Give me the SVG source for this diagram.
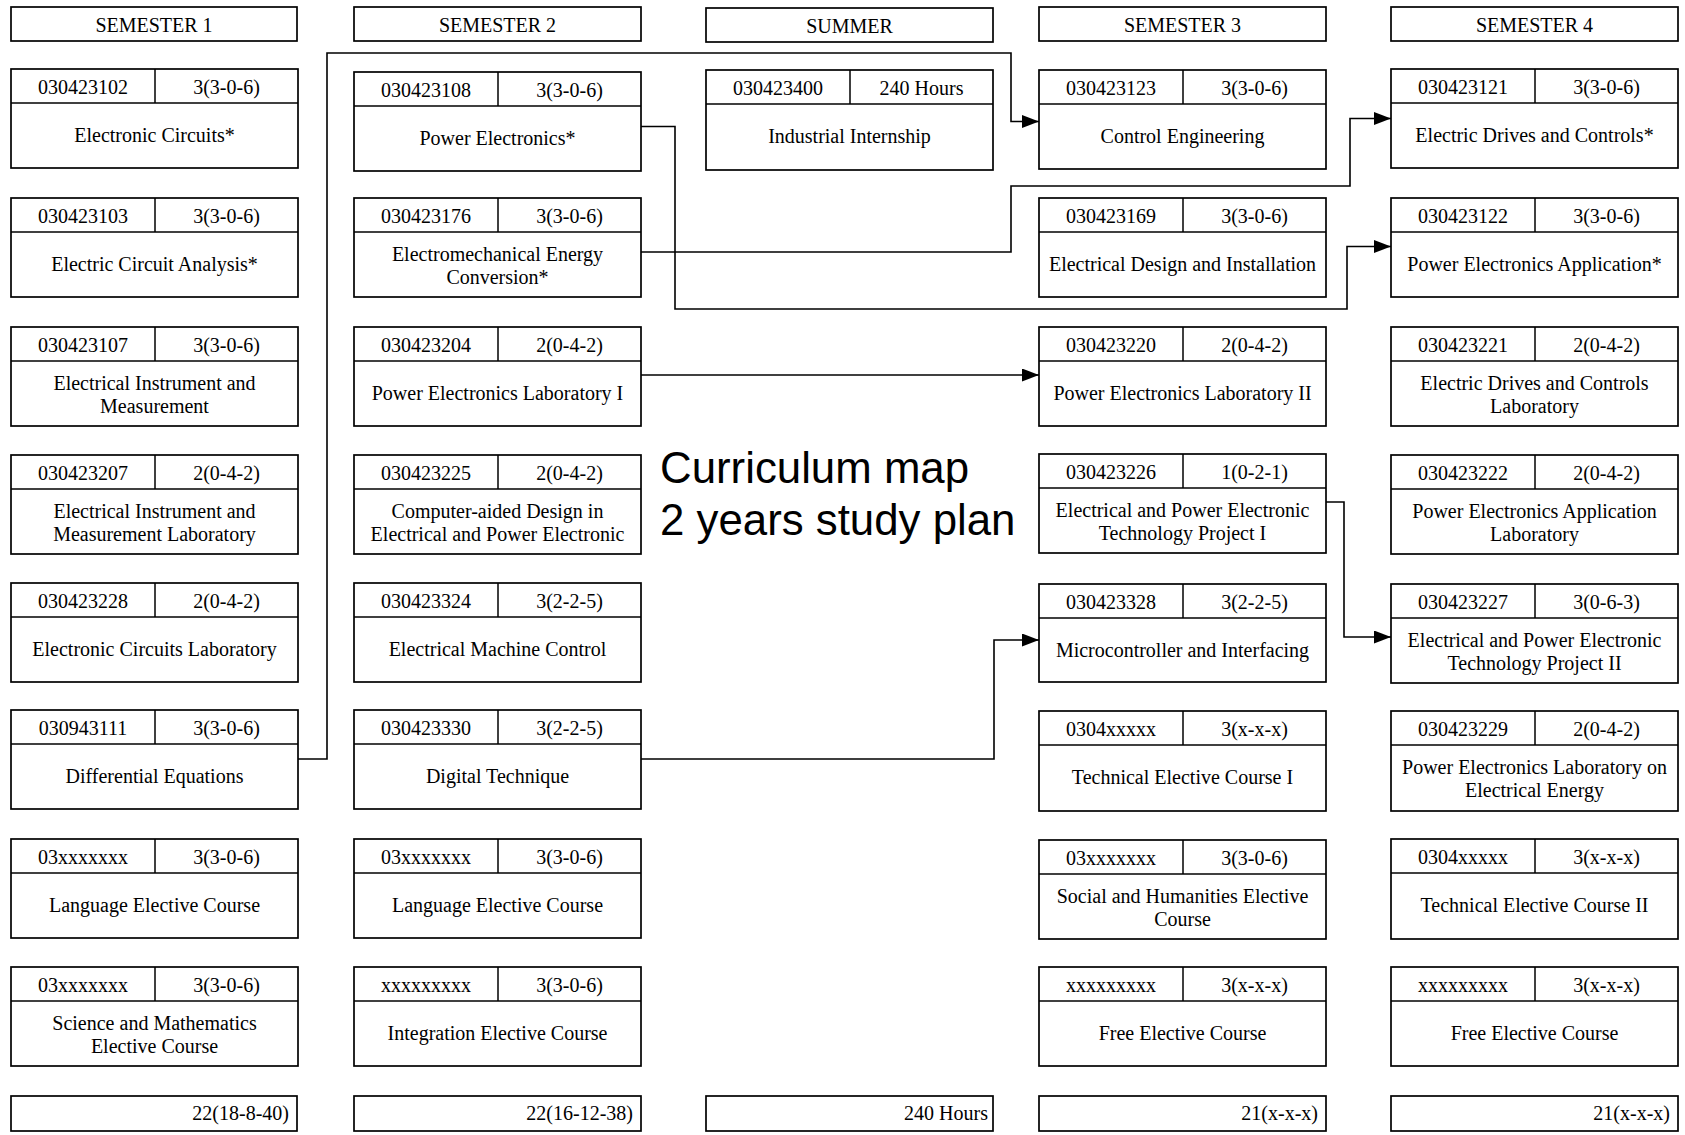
<svg xmlns="http://www.w3.org/2000/svg" width="1685" height="1135" viewBox="0 0 1685 1135">
<style>
rect{fill:#fff;stroke:#000;stroke-width:1.7}
.d{stroke:#000;stroke-width:1.5}
text{font-family:"Liberation Serif","Times New Roman",serif;font-size:20px;fill:#000;text-anchor:middle}
.t{text-anchor:end}
.title{font-family:"Liberation Sans",Arial,sans-serif;font-size:43.8px;text-anchor:start}
.c{fill:none;stroke:#000;stroke-width:1.6}
</style>
<defs>
<marker id="ah" markerUnits="userSpaceOnUse" markerWidth="18" markerHeight="14" refX="17" refY="6.5" orient="auto"><path d="M0,0 L17,6.5 L0,13 z" fill="#000"/></marker>
</defs>

<g id="headers">
<g id="h1" transform="translate(11,7)"><rect width="286" height="34"/><text x="143" y="25">SEMESTER 1</text></g>
<g id="h2" transform="translate(354,7)"><rect width="287" height="34"/><text x="143.5" y="25">SEMESTER 2</text></g>
<g id="h3" transform="translate(706,8)"><rect width="287" height="34"/><text x="143.5" y="25">SUMMER</text></g>
<g id="h4" transform="translate(1039,7)"><rect width="287" height="34"/><text x="143.5" y="25">SEMESTER 3</text></g>
<g id="h5" transform="translate(1391,7)"><rect width="287" height="34"/><text x="143.5" y="25">SEMESTER 4</text></g>
</g>

<!-- Semester 1 -->
<g id="s1r0" transform="translate(11,69)"><rect width="287" height="99"/><line class="d" x1="0" y1="34" x2="287" y2="34"/><line class="d" x1="144" y1="0" x2="144" y2="34"/><text x="72" y="25">030423102</text><text x="215.5" y="25">3(3-0-6)</text><text x="143.5" y="73">Electronic Circuits*</text></g>
<g id="s1r1" transform="translate(11,198)"><rect width="287" height="99"/><line class="d" x1="0" y1="34" x2="287" y2="34"/><line class="d" x1="144" y1="0" x2="144" y2="34"/><text x="72" y="25">030423103</text><text x="215.5" y="25">3(3-0-6)</text><text x="143.5" y="73">Electric Circuit Analysis*</text></g>
<g id="s1r2" transform="translate(11,327)"><rect width="287" height="99"/><line class="d" x1="0" y1="34" x2="287" y2="34"/><line class="d" x1="144" y1="0" x2="144" y2="34"/><text x="72" y="25">030423107</text><text x="215.5" y="25">3(3-0-6)</text><text x="143.5" y="63">Electrical Instrument and</text><text x="143.5" y="86">Measurement</text></g>
<g id="s1r3" transform="translate(11,455)"><rect width="287" height="99"/><line class="d" x1="0" y1="34" x2="287" y2="34"/><line class="d" x1="144" y1="0" x2="144" y2="34"/><text x="72" y="25">030423207</text><text x="215.5" y="25">2(0-4-2)</text><text x="143.5" y="63">Electrical Instrument and</text><text x="143.5" y="86">Measurement Laboratory</text></g>
<g id="s1r4" transform="translate(11,583)"><rect width="287" height="99"/><line class="d" x1="0" y1="34" x2="287" y2="34"/><line class="d" x1="144" y1="0" x2="144" y2="34"/><text x="72" y="25">030423228</text><text x="215.5" y="25">2(0-4-2)</text><text x="143.5" y="73">Electronic Circuits Laboratory</text></g>
<g id="s1r5" transform="translate(11,710)"><rect width="287" height="99"/><line class="d" x1="0" y1="34" x2="287" y2="34"/><line class="d" x1="144" y1="0" x2="144" y2="34"/><text x="72" y="25">030943111</text><text x="215.5" y="25">3(3-0-6)</text><text x="143.5" y="73">Differential Equations</text></g>
<g id="s1r6" transform="translate(11,839)"><rect width="287" height="99"/><line class="d" x1="0" y1="34" x2="287" y2="34"/><line class="d" x1="144" y1="0" x2="144" y2="34"/><text x="72" y="25">03xxxxxxx</text><text x="215.5" y="25">3(3-0-6)</text><text x="143.5" y="73">Language Elective Course</text></g>
<g id="s1r7" transform="translate(11,967)"><rect width="287" height="99"/><line class="d" x1="0" y1="34" x2="287" y2="34"/><line class="d" x1="144" y1="0" x2="144" y2="34"/><text x="72" y="25">03xxxxxxx</text><text x="215.5" y="25">3(3-0-6)</text><text x="143.5" y="63">Science and Mathematics</text><text x="143.5" y="86">Elective Course</text></g>
<g id="s1tot" transform="translate(11,1096)"><rect width="286" height="35"/><text class="t" x="278" y="24">22(18-8-40)</text></g>

<!-- Semester 2 -->
<g id="s2r0" transform="translate(354,72)"><rect width="287" height="99"/><line class="d" x1="0" y1="34" x2="287" y2="34"/><line class="d" x1="144" y1="0" x2="144" y2="34"/><text x="72" y="25">030423108</text><text x="215.5" y="25">3(3-0-6)</text><text x="143.5" y="73">Power Electronics*</text></g>
<g id="s2r1" transform="translate(354,198)"><rect width="287" height="99"/><line class="d" x1="0" y1="34" x2="287" y2="34"/><line class="d" x1="144" y1="0" x2="144" y2="34"/><text x="72" y="25">030423176</text><text x="215.5" y="25">3(3-0-6)</text><text x="143.5" y="63">Electromechanical Energy</text><text x="143.5" y="86">Conversion*</text></g>
<g id="s2r2" transform="translate(354,327)"><rect width="287" height="99"/><line class="d" x1="0" y1="34" x2="287" y2="34"/><line class="d" x1="144" y1="0" x2="144" y2="34"/><text x="72" y="25">030423204</text><text x="215.5" y="25">2(0-4-2)</text><text x="143.5" y="73">Power Electronics Laboratory I</text></g>
<g id="s2r3" transform="translate(354,455)"><rect width="287" height="99"/><line class="d" x1="0" y1="34" x2="287" y2="34"/><line class="d" x1="144" y1="0" x2="144" y2="34"/><text x="72" y="25">030423225</text><text x="215.5" y="25">2(0-4-2)</text><text x="143.5" y="63">Computer-aided Design in</text><text x="143.5" y="86">Electrical and Power Electronic</text></g>
<g id="s2r4" transform="translate(354,583)"><rect width="287" height="99"/><line class="d" x1="0" y1="34" x2="287" y2="34"/><line class="d" x1="144" y1="0" x2="144" y2="34"/><text x="72" y="25">030423324</text><text x="215.5" y="25">3(2-2-5)</text><text x="143.5" y="73">Electrical Machine Control</text></g>
<g id="s2r5" transform="translate(354,710)"><rect width="287" height="99"/><line class="d" x1="0" y1="34" x2="287" y2="34"/><line class="d" x1="144" y1="0" x2="144" y2="34"/><text x="72" y="25">030423330</text><text x="215.5" y="25">3(2-2-5)</text><text x="143.5" y="73">Digital Technique</text></g>
<g id="s2r6" transform="translate(354,839)"><rect width="287" height="99"/><line class="d" x1="0" y1="34" x2="287" y2="34"/><line class="d" x1="144" y1="0" x2="144" y2="34"/><text x="72" y="25">03xxxxxxx</text><text x="215.5" y="25">3(3-0-6)</text><text x="143.5" y="73">Language Elective Course</text></g>
<g id="s2r7" transform="translate(354,967)"><rect width="287" height="99"/><line class="d" x1="0" y1="34" x2="287" y2="34"/><line class="d" x1="144" y1="0" x2="144" y2="34"/><text x="72" y="25">xxxxxxxxx</text><text x="215.5" y="25">3(3-0-6)</text><text x="143.5" y="73">Integration Elective Course</text></g>
<g id="s2tot" transform="translate(354,1096)"><rect width="287" height="35"/><text class="t" x="279" y="24">22(16-12-38)</text></g>

<!-- Summer -->
<g id="sur0" transform="translate(706,70)"><rect width="287" height="100"/><line class="d" x1="0" y1="34" x2="287" y2="34"/><line class="d" x1="144" y1="0" x2="144" y2="34"/><text x="72" y="25">030423400</text><text x="215.5" y="25">240 Hours</text><text x="143.5" y="73">Industrial Internship</text></g>
<g id="sutot" transform="translate(706,1096)"><rect width="287" height="35"/><text class="t" x="282" y="24">240 Hours</text></g>

<!-- Semester 3 -->
<g id="s3r0" transform="translate(1039,70)"><rect width="287" height="99"/><line class="d" x1="0" y1="34" x2="287" y2="34"/><line class="d" x1="144" y1="0" x2="144" y2="34"/><text x="72" y="25">030423123</text><text x="215.5" y="25">3(3-0-6)</text><text x="143.5" y="73">Control Engineering</text></g>
<g id="s3r1" transform="translate(1039,198)"><rect width="287" height="99"/><line class="d" x1="0" y1="34" x2="287" y2="34"/><line class="d" x1="144" y1="0" x2="144" y2="34"/><text x="72" y="25">030423169</text><text x="215.5" y="25">3(3-0-6)</text><text x="143.5" y="73">Electrical Design and Installation</text></g>
<g id="s3r2" transform="translate(1039,327)"><rect width="287" height="99"/><line class="d" x1="0" y1="34" x2="287" y2="34"/><line class="d" x1="144" y1="0" x2="144" y2="34"/><text x="72" y="25">030423220</text><text x="215.5" y="25">2(0-4-2)</text><text x="143.5" y="73">Power Electronics Laboratory II</text></g>
<g id="s3r3" transform="translate(1039,454)"><rect width="287" height="99"/><line class="d" x1="0" y1="34" x2="287" y2="34"/><line class="d" x1="144" y1="0" x2="144" y2="34"/><text x="72" y="25">030423226</text><text x="215.5" y="25">1(0-2-1)</text><text x="143.5" y="63">Electrical and Power Electronic</text><text x="143.5" y="86">Technology Project I</text></g>
<g id="s3r4" transform="translate(1039,584)"><rect width="287" height="98"/><line class="d" x1="0" y1="34" x2="287" y2="34"/><line class="d" x1="144" y1="0" x2="144" y2="34"/><text x="72" y="25">030423328</text><text x="215.5" y="25">3(2-2-5)</text><text x="143.5" y="73">Microcontroller and Interfacing</text></g>
<g id="s3r5" transform="translate(1039,711)"><rect width="287" height="100"/><line class="d" x1="0" y1="34" x2="287" y2="34"/><line class="d" x1="144" y1="0" x2="144" y2="34"/><text x="72" y="25">0304xxxxx</text><text x="215.5" y="25">3(x-x-x)</text><text x="143.5" y="73">Technical Elective Course I</text></g>
<g id="s3r6" transform="translate(1039,840)"><rect width="287" height="99"/><line class="d" x1="0" y1="34" x2="287" y2="34"/><line class="d" x1="144" y1="0" x2="144" y2="34"/><text x="72" y="25">03xxxxxxx</text><text x="215.5" y="25">3(3-0-6)</text><text x="143.5" y="63">Social and Humanities Elective</text><text x="143.5" y="86">Course</text></g>
<g id="s3r7" transform="translate(1039,967)"><rect width="287" height="99"/><line class="d" x1="0" y1="34" x2="287" y2="34"/><line class="d" x1="144" y1="0" x2="144" y2="34"/><text x="72" y="25">xxxxxxxxx</text><text x="215.5" y="25">3(x-x-x)</text><text x="143.5" y="73">Free Elective Course</text></g>
<g id="s3tot" transform="translate(1039,1096)"><rect width="287" height="35"/><text class="t" x="279" y="24">21(x-x-x)</text></g>

<!-- Semester 4 -->
<g id="s4r0" transform="translate(1391,69)"><rect width="287" height="99"/><line class="d" x1="0" y1="34" x2="287" y2="34"/><line class="d" x1="144" y1="0" x2="144" y2="34"/><text x="72" y="25">030423121</text><text x="215.5" y="25">3(3-0-6)</text><text x="143.5" y="73">Electric Drives and Controls*</text></g>
<g id="s4r1" transform="translate(1391,198)"><rect width="287" height="99"/><line class="d" x1="0" y1="34" x2="287" y2="34"/><line class="d" x1="144" y1="0" x2="144" y2="34"/><text x="72" y="25">030423122</text><text x="215.5" y="25">3(3-0-6)</text><text x="143.5" y="73">Power Electronics Application*</text></g>
<g id="s4r2" transform="translate(1391,327)"><rect width="287" height="99"/><line class="d" x1="0" y1="34" x2="287" y2="34"/><line class="d" x1="144" y1="0" x2="144" y2="34"/><text x="72" y="25">030423221</text><text x="215.5" y="25">2(0-4-2)</text><text x="143.5" y="63">Electric Drives and Controls</text><text x="143.5" y="86">Laboratory</text></g>
<g id="s4r3" transform="translate(1391,455)"><rect width="287" height="99"/><line class="d" x1="0" y1="34" x2="287" y2="34"/><line class="d" x1="144" y1="0" x2="144" y2="34"/><text x="72" y="25">030423222</text><text x="215.5" y="25">2(0-4-2)</text><text x="143.5" y="63">Power Electronics Application</text><text x="143.5" y="86">Laboratory</text></g>
<g id="s4r4" transform="translate(1391,584)"><rect width="287" height="99"/><line class="d" x1="0" y1="34" x2="287" y2="34"/><line class="d" x1="144" y1="0" x2="144" y2="34"/><text x="72" y="25">030423227</text><text x="215.5" y="25">3(0-6-3)</text><text x="143.5" y="63">Electrical and Power Electronic</text><text x="143.5" y="86">Technology Project II</text></g>
<g id="s4r5" transform="translate(1391,711)"><rect width="287" height="100"/><line class="d" x1="0" y1="34" x2="287" y2="34"/><line class="d" x1="144" y1="0" x2="144" y2="34"/><text x="72" y="25">030423229</text><text x="215.5" y="25">2(0-4-2)</text><text x="143.5" y="63">Power Electronics Laboratory on</text><text x="143.5" y="86">Electrical Energy</text></g>
<g id="s4r6" transform="translate(1391,839)"><rect width="287" height="100"/><line class="d" x1="0" y1="34" x2="287" y2="34"/><line class="d" x1="144" y1="0" x2="144" y2="34"/><text x="72" y="25">0304xxxxx</text><text x="215.5" y="25">3(x-x-x)</text><text x="143.5" y="73">Technical Elective Course II</text></g>
<g id="s4r7" transform="translate(1391,967)"><rect width="287" height="99"/><line class="d" x1="0" y1="34" x2="287" y2="34"/><line class="d" x1="144" y1="0" x2="144" y2="34"/><text x="72" y="25">xxxxxxxxx</text><text x="215.5" y="25">3(x-x-x)</text><text x="143.5" y="73">Free Elective Course</text></g>
<g id="s4tot" transform="translate(1391,1096)"><rect width="287" height="35"/><text class="t" x="279" y="24">21(x-x-x)</text></g>

<g id="title"><text class="title" x="660" y="483">Curriculum map</text><text class="title" x="660" y="535">2 years study plan</text></g>

<g id="connectors">
<path class="c" d="M298,759 H327 V53 H1011 V121.5 H1039" marker-end="url(#ah)"/>
<path class="c" d="M641,126.5 H675 V309 H1347 V246.5 H1391" marker-end="url(#ah)"/>
<path class="c" d="M641,252 H1011 V186 H1350 V118.5 H1391" marker-end="url(#ah)"/>
<path class="c" d="M641,375 H1039" marker-end="url(#ah)"/>
<path class="c" d="M641,759 H994 V640 H1039" marker-end="url(#ah)"/>
<path class="c" d="M1326,502 H1344 V637 H1391" marker-end="url(#ah)"/>
</g>
</svg>
